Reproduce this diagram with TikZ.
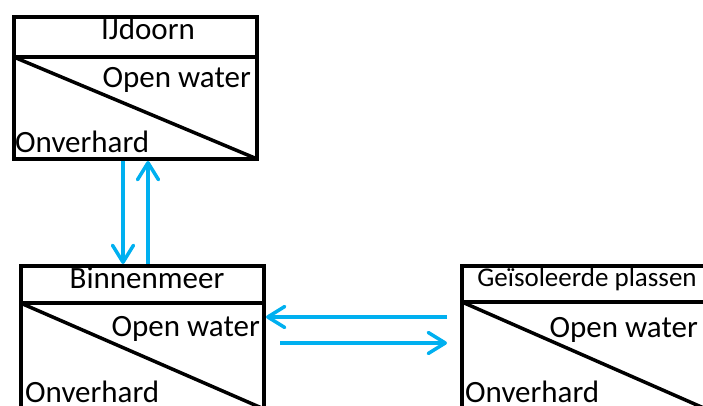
\documentclass[tikz,border=0pt]{standalone}
\usepackage{fontspec}
\setmainfont{Carlito}
\usetikzlibrary{arrows.meta}
\definecolor{flowblue}{RGB}{0,176,240}
\begin{document}
\begin{tikzpicture}[x=1pt,y=-1pt,
  lake/.style={draw=black, line width=4pt, rectangle, anchor=north west,
    outer sep=0pt, inner sep=0pt, minimum width=243.5pt, minimum height=143pt},
  edge/.style={draw=black, line width=4pt},
  diag/.style={draw=black, line width=3.5pt},
  lbl/.style={inner sep=0pt, font=\fontsize{31}{31}\selectfont},
  smalllbl/.style={inner sep=0pt, font=\fontsize{27}{27}\selectfont},
  flow/.style={draw=flowblue, line width=3.5pt,
    -{Straight Barb[length=17pt,width=21pt,round]}}
]
\useasboundingbox (0,0) rectangle (703,406);
\clip (0,0) rectangle (703,406);

% lake compartments
\node[lake, minimum height=141.5pt] (ij) at (13.7,17.5) {};
\node[lake] (bm) at (20.5,266) {};
\node[lake, minimum width=244pt] (gp) at (462,266) {};

% header dividers and diagonals
\draw[edge] ([yshift=-39.5pt]ij.north west) -- ([yshift=-39.5pt]ij.north east);
\draw[diag] ([yshift=-39.5pt]ij.north west) -- (ij.south east);
\draw[edge] ([yshift=-37pt]bm.north west) -- ([yshift=-37pt]bm.north east);
\draw[diag] ([yshift=-37pt]bm.north west) -- (bm.south east);
\draw[edge] ([yshift=-36pt]gp.north west) -- ([yshift=-36pt]gp.north east);
\draw[diag] ([yshift=-36pt]gp.north west) -- (gp.south east);

% labels
\node[lbl, anchor=base] (ijname) at (148,40) {IJdoorn};
\node[lbl, anchor=base east] (ijopen) at (251,88) {Open water};
\node[lbl, anchor=base west] (ijonv) at (15,153) {Onverhard};

\node[lbl, anchor=base] (bmname) at (147,288) {Binnenmeer};
\node[lbl, anchor=base east] (bmopen) at (260,336) {Open water};
\node[lbl, anchor=base west] (bmonv) at (25,402) {Onverhard};

\node[smalllbl, anchor=base] (gpname) at (587,286) {Geïsoleerde plassen};
\node[lbl, anchor=base east] (gpopen) at (698,337) {Open water};
\node[lbl, anchor=base west] (gponv) at (465,402) {Onverhard};

% exchanges between compartments
\draw[flow] ([xshift=109.3pt,yshift=-2pt]ij.south west) -- ([xshift=102.5pt,yshift=2pt]bm.north west);
\draw[flow] ([xshift=127.5pt,yshift=2pt]bm.north west) -- ([xshift=134.3pt,yshift=-2pt]ij.south west);
\draw[flow] ([xshift=-15pt,yshift=-51pt]gp.north west) -- ([xshift=2pt,yshift=-51pt]bm.north east);
\draw[flow] ([xshift=16pt,yshift=-77pt]bm.north east) -- ([xshift=-15pt,yshift=-77pt]gp.north west);
\end{tikzpicture}
\end{document}
